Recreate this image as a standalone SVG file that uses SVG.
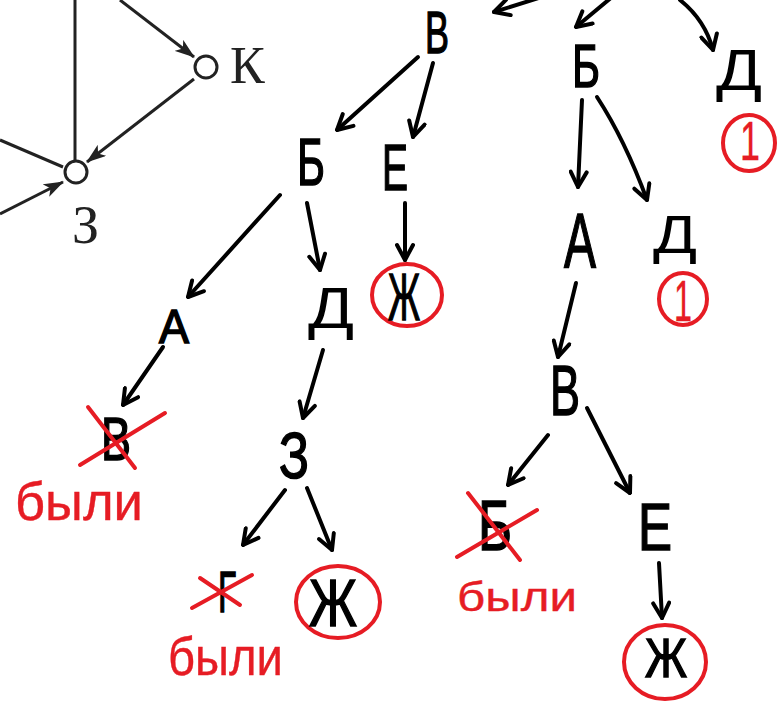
<svg xmlns="http://www.w3.org/2000/svg" width="777" height="701" viewBox="0 0 777 701">
<style>
.L{font-family:"Liberation Sans",Arial,sans-serif;fill:#000;stroke:#000;stroke-width:1.5;text-anchor:middle;}
.D{font-family:"Liberation Sans",Arial,sans-serif;fill:#000;stroke:none;text-anchor:middle;}
.R{font-family:"Liberation Sans",Arial,sans-serif;fill:#e61c24;stroke:#e61c24;stroke-width:0.4;}
.S{font-family:"Liberation Serif","Times New Roman",serif;fill:#222;}
.c{fill:none;stroke:#000;stroke-width:4;stroke-linecap:round;}
.t{fill:none;stroke:#222;stroke-width:3;}
.x{fill:none;stroke:#e61c24;stroke-width:4;stroke-linecap:round;}
.o{fill:none;stroke:#e61c24;stroke-width:4;}
</style>
<defs>
<marker id="ah" viewBox="0 0 20 20" refX="18" refY="10" markerWidth="20" markerHeight="20" orient="auto" markerUnits="userSpaceOnUse">
<path d="M3,2 L18,10 L3,18" fill="none" stroke="#000" stroke-width="4" stroke-linecap="round" stroke-linejoin="round"/>
</marker>
<marker id="tri" viewBox="0 0 20 14" refX="19" refY="7" markerWidth="20" markerHeight="14" orient="auto" markerUnits="userSpaceOnUse">
<path d="M0,0 L20,7 L0,14 L5,7 Z" fill="#222"/>
</marker>
</defs>
<rect width="777" height="701" fill="#fff"/>

<g id="textbook-graph">
<line class="t" x1="75" y1="0" x2="75" y2="161"/>
<line class="t" x1="0" y1="140" x2="63" y2="167"/>
<line class="t" x1="120" y1="0" x2="194" y2="57" marker-end="url(#tri)"/>
<line class="t" x1="194" y1="79" x2="87" y2="162" marker-end="url(#tri)"/>
<line class="t" x1="0" y1="214" x2="63" y2="182" marker-end="url(#tri)"/>
<circle cx="76" cy="172" r="11" fill="#fff" stroke="#222" stroke-width="3"/>
<circle cx="206" cy="67" r="11" fill="#fff" stroke="#222" stroke-width="3"/>
<text class="S" x="230" y="83" font-size="52">К</text>
<text class="S" x="72" y="243" font-size="54">З</text>
</g>

<g id="connectors">
<path class="c" d="M545,-4 L494,12" marker-end="url(#ah)"/>
<path class="c" d="M612,-3 L576,27" marker-end="url(#ah)"/>
<path class="c" d="M680,0 Q705,20 713,50" marker-end="url(#ah)"/>
<path class="c" d="M418,57 L337,130" marker-end="url(#ah)"/>
<path class="c" d="M433,63 L413,137" marker-end="url(#ah)"/>
<path class="c" d="M280,195 L188,297" marker-end="url(#ah)"/>
<path class="c" d="M307,203 L320,270" marker-end="url(#ah)"/>
<path class="c" d="M405,203 L405,260" marker-end="url(#ah)"/>
<path class="c" d="M582,100 L578,187" marker-end="url(#ah)"/>
<path class="c" d="M597,97 Q625,140 647,200" marker-end="url(#ah)"/>
<path class="c" d="M576,283 L558,357" marker-end="url(#ah)"/>
<path class="c" d="M163,347 L123,405" marker-end="url(#ah)"/>
<path class="c" d="M323,350 L303,418" marker-end="url(#ah)"/>
<path class="c" d="M285,490 L243,545" marker-end="url(#ah)"/>
<path class="c" d="M307,488 L332,550" marker-end="url(#ah)"/>
<path class="c" d="M548,435 L508,485" marker-end="url(#ah)"/>
<path class="c" d="M587,408 L630,493" marker-end="url(#ah)"/>
<path class="c" d="M659,563 L662,618" marker-end="url(#ah)"/>
</g>

<g id="n-V-top"><text class="L" x="437" y="53" font-size="60" textLength="24" lengthAdjust="spacingAndGlyphs">В</text></g>
<g id="n-B-left"><text class="L" x="311" y="185" font-size="66" textLength="28" lengthAdjust="spacingAndGlyphs">Б</text></g>
<g id="n-E-left"><text class="L" x="395" y="190" font-size="64" textLength="26" lengthAdjust="spacingAndGlyphs">Е</text></g>
<g id="n-B-right"><text class="L" x="586" y="87" font-size="62" textLength="28" lengthAdjust="spacingAndGlyphs">Б</text></g>
<g id="n-D-topright"><text class="D" x="739" y="90" font-size="58" textLength="46" lengthAdjust="spacingAndGlyphs">Д</text>
<ellipse class="o" cx="749" cy="143" rx="26" ry="28"/>
<text class="R" x="750" y="160" font-size="56" text-anchor="middle" textLength="20" lengthAdjust="spacingAndGlyphs">1</text></g>
<g id="n-A-right"><text class="L" x="580" y="268" font-size="78" textLength="32" lengthAdjust="spacingAndGlyphs">А</text></g>
<g id="n-D-midright"><text class="D" x="675" y="253" font-size="54" textLength="44" lengthAdjust="spacingAndGlyphs">Д</text>
<ellipse class="o" cx="683" cy="299" rx="24" ry="26"/>
<text class="R" x="683" y="321" font-size="58" text-anchor="middle" textLength="18" lengthAdjust="spacingAndGlyphs">1</text></g>
<g id="n-Zh-left"><ellipse class="o" cx="407" cy="295" rx="35" ry="31"/>
<text class="L" x="404" y="320" font-size="66" textLength="32" lengthAdjust="spacingAndGlyphs">Ж</text></g>
<g id="n-A-left"><text class="L" x="174" y="343" font-size="48" textLength="30" lengthAdjust="spacingAndGlyphs">А</text></g>
<g id="n-D-left"><text class="D" x="331" y="328" font-size="58" textLength="46" lengthAdjust="spacingAndGlyphs">Д</text></g>
<g id="n-V-crossed"><text class="L" x="116" y="460" font-size="62" textLength="30" lengthAdjust="spacingAndGlyphs">В</text>
<line class="x" x1="88" y1="407" x2="135" y2="468"/>
<line class="x" x1="80" y1="465" x2="165" y2="413"/>
<text class="R" x="15" y="520" font-size="54" textLength="128" lengthAdjust="spacingAndGlyphs">были</text></g>
<g id="n-Z"><text class="L" x="294" y="478" font-size="64" textLength="30" lengthAdjust="spacingAndGlyphs">З</text></g>
<g id="n-G-crossed"><text class="L" x="227" y="612" font-size="58" textLength="18" lengthAdjust="spacingAndGlyphs">Г</text>
<line class="x" x1="200" y1="578" x2="240" y2="605"/>
<line class="x" x1="192" y1="608" x2="252" y2="575"/>
<text class="R" x="168" y="675" font-size="54" textLength="115" lengthAdjust="spacingAndGlyphs">были</text></g>
<g id="n-Zh-mid"><ellipse class="o" cx="338" cy="602" rx="42" ry="36"/>
<text class="L" x="333" y="626" font-size="66" textLength="48" lengthAdjust="spacingAndGlyphs">Ж</text></g>
<g id="n-V-right"><text class="L" x="565" y="415" font-size="70" textLength="30" lengthAdjust="spacingAndGlyphs">В</text></g>
<g id="n-B-crossed"><text class="L" x="495" y="550" font-size="70" textLength="34" lengthAdjust="spacingAndGlyphs">Б</text>
<line class="x" x1="468" y1="493" x2="520" y2="560"/>
<line class="x" x1="457" y1="557" x2="537" y2="510"/>
<text class="R" x="457" y="611" font-size="40" textLength="120" lengthAdjust="spacingAndGlyphs">были</text></g>
<g id="n-E-right"><text class="L" x="655" y="550" font-size="66" textLength="34" lengthAdjust="spacingAndGlyphs">Е</text></g>
<g id="n-Zh-right"><ellipse class="o" cx="665" cy="662" rx="41" ry="37"/>
<text class="L" x="666" y="677" font-size="56" textLength="42" lengthAdjust="spacingAndGlyphs">Ж</text></g>
</svg>
